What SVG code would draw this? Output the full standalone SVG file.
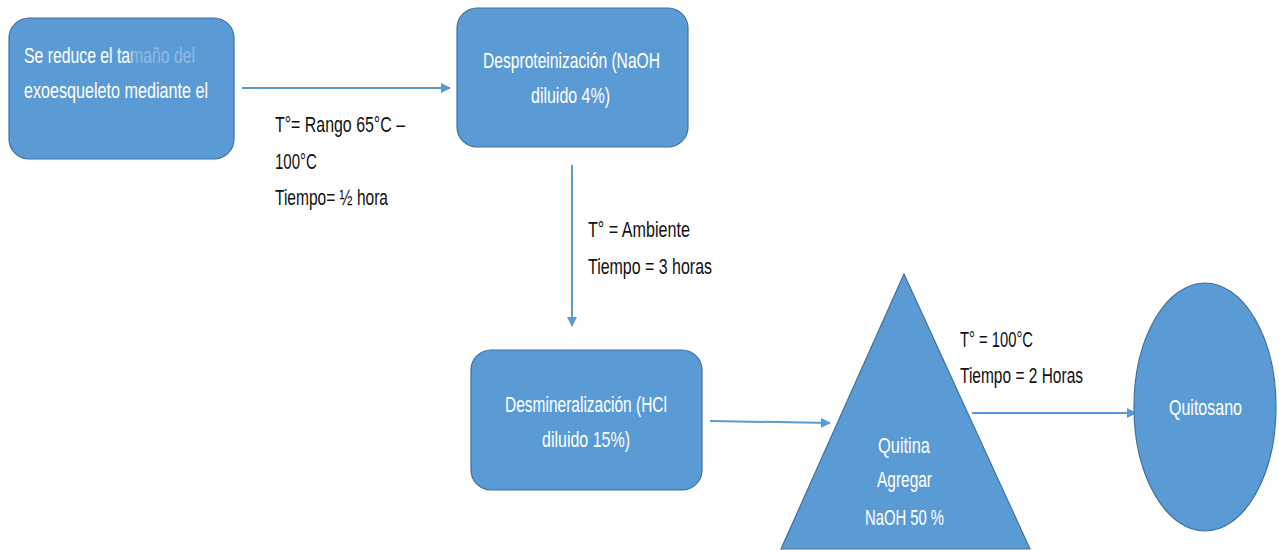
<svg xmlns="http://www.w3.org/2000/svg" width="1279" height="550" viewBox="0 0 1279 550">
<defs>
<marker id="ah" markerWidth="10" markerHeight="10" refX="9" refY="5" orient="auto" markerUnits="userSpaceOnUse">
<path d="M0,0 L10,5 L0,10 Z" fill="#5B9BD5"/>
</marker>
<linearGradient id="fade" gradientUnits="userSpaceOnUse" x1="24" y1="0" x2="195" y2="0">
<stop offset="0" stop-color="#FFFFFF" stop-opacity="1"/>
<stop offset="0.615" stop-color="#FFFFFF" stop-opacity="1"/>
<stop offset="0.64" stop-color="#FFFFFF" stop-opacity="0.3"/>
<stop offset="1" stop-color="#FFFFFF" stop-opacity="0.3"/>
</linearGradient>
<style>
.shape{fill:#5B9BD5;stroke:#41719C;stroke-width:1.2}
.nt{font-family:"Liberation Sans",Arial,sans-serif;font-size:22px;fill:#FFFFFF}
.lb{font-family:"Liberation Sans",Arial,sans-serif;font-size:22px;fill:#111111}
.cn{stroke:#5B9BD5;stroke-width:2;fill:none;marker-end:url(#ah)}
</style>
</defs>
<rect width="1279" height="550" fill="#FFFFFF"/>
<g id="connectors">
<line class="cn" x1="242" y1="88" x2="450" y2="88"/>
<line class="cn" x1="572" y1="165" x2="572" y2="326"/>
<line class="cn" x1="710" y1="421" x2="830" y2="423"/>
<line class="cn" x1="972" y1="413" x2="1136" y2="413"/>
</g>
<g id="labels">
<text class="lb" x="275" y="132" textLength="130" lengthAdjust="spacingAndGlyphs">T°= Rango 65°C –</text>
<text class="lb" x="275" y="169" textLength="42" lengthAdjust="spacingAndGlyphs">100°C</text>
<text class="lb" x="275" y="205" textLength="113" lengthAdjust="spacingAndGlyphs">Tiempo= ½ hora</text>
<text class="lb" x="588" y="237" textLength="102" lengthAdjust="spacingAndGlyphs">T° = Ambiente</text>
<text class="lb" x="588" y="274" textLength="124" lengthAdjust="spacingAndGlyphs">Tiempo = 3 horas</text>
<text class="lb" x="960" y="347" textLength="73" lengthAdjust="spacingAndGlyphs">T° = 100°C</text>
<text class="lb" x="960" y="383" textLength="123" lengthAdjust="spacingAndGlyphs">Tiempo = 2 Horas</text>
</g>
<g id="node-reduce">
<rect class="shape" x="9" y="18" width="225" height="141" rx="20" ry="20"/>
<text class="nt" x="24" y="63" textLength="171" lengthAdjust="spacingAndGlyphs" style="fill:url(#fade)">Se reduce el tamaño del</text>
<text class="nt" x="24" y="98" textLength="184" lengthAdjust="spacingAndGlyphs">exoesqueleto mediante el</text>
</g>
<g id="node-desproteinizacion">
<rect class="shape" x="457" y="8" width="231" height="139" rx="20" ry="20"/>
<text class="nt" x="483" y="68" textLength="177" lengthAdjust="spacingAndGlyphs">Desproteinización (NaOH</text>
<text class="nt" x="531" y="103" textLength="79" lengthAdjust="spacingAndGlyphs">diluido 4%)</text>
</g>
<g id="node-desmineralizacion">
<rect class="shape" x="471" y="350" width="231" height="140" rx="20" ry="20"/>
<text class="nt" x="505" y="412" textLength="162" lengthAdjust="spacingAndGlyphs">Desmineralización (HCl</text>
<text class="nt" x="542" y="447" textLength="88" lengthAdjust="spacingAndGlyphs">diluido 15%)</text>
</g>
<g id="node-quitina">
<polygon class="shape" points="904,274 1030,549 781,549"/>
<text class="nt" x="878" y="453" textLength="52" lengthAdjust="spacingAndGlyphs">Quitina</text>
<text class="nt" x="877" y="487" textLength="55" lengthAdjust="spacingAndGlyphs">Agregar</text>
<text class="nt" x="865" y="525" textLength="79" lengthAdjust="spacingAndGlyphs">NaOH 50 %</text>
</g>
<g id="node-quitosano">
<ellipse class="shape" cx="1205" cy="407" rx="71" ry="124"/>
<text class="nt" x="1169" y="415" textLength="73" lengthAdjust="spacingAndGlyphs">Quitosano</text>
</g>
</svg>
